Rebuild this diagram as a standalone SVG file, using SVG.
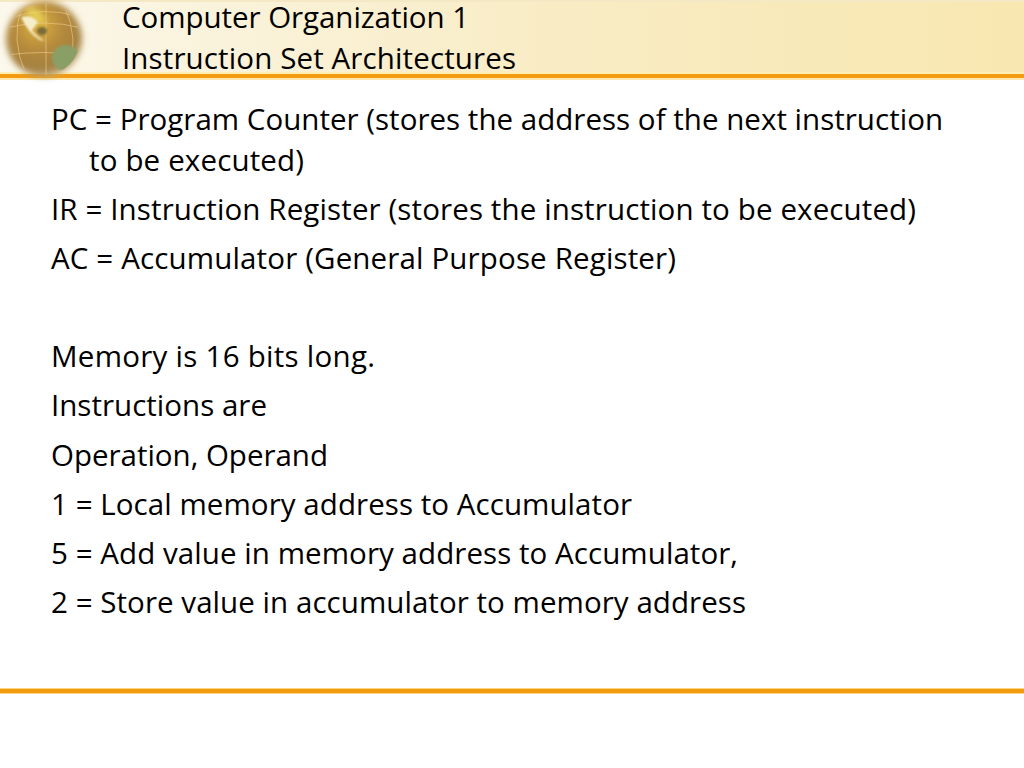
<svg xmlns="http://www.w3.org/2000/svg" width="1024" height="768" viewBox="0 0 1024 768">
<style>
text{font-family:"Open Sans","Noto Sans","Liberation Sans",sans-serif;fill:#000;font-size:29.5px}
.g{fill:none;stroke:#eec78a;stroke-width:1;opacity:.65}
</style>
<defs>
<linearGradient id="hdr" x1="0" x2="1" y1="0" y2="0"><stop offset="0" stop-color="#fbf8ec"/><stop offset=".2" stop-color="#faf3dc"/><stop offset=".55" stop-color="#f9ecc4"/><stop offset="1" stop-color="#f8e7b0"/></linearGradient>
<radialGradient id="gl" cx=".42" cy=".32" r=".72"><stop offset="0" stop-color="#dcb23e"/><stop offset=".45" stop-color="#b58a3c"/><stop offset=".8" stop-color="#a38040"/><stop offset="1" stop-color="#cdb88c"/></radialGradient>
<filter id="bl" x="-20%" y="-20%" width="140%" height="140%"><feGaussianBlur stdDeviation="3.2"/></filter>
<filter id="bs" x="-30%" y="-30%" width="160%" height="160%"><feGaussianBlur stdDeviation="1.3"/></filter>
<clipPath id="gc"><circle cx="44" cy="39" r="36"/></clipPath>
</defs>
<g id="header">
<rect width="1024" height="74" fill="url(#hdr)"/>
<rect y="0" width="1024" height="2" fill="#f5e8c4"/>
<rect y="72" width="1024" height="2" fill="#fdeeb5"/>
<rect y="74" width="1024" height="5" fill="#f39c12"/>
<rect y="78" width="1024" height="2" fill="#fde9b0"/>
</g>
<g id="globe">
<circle cx="44" cy="39" r="38" fill="url(#gl)" filter="url(#bl)"/>
<g clip-path="url(#gc)">
<path class="g" d="M6 28Q44 18 82 28M6 55Q44 50 82 55M10 18Q44 6 76 16"/>
<path class="g" d="M46 2V76M22 6Q10 40 26 74M64 5Q80 40 68 72"/>
<path d="M26 6Q42 6 46 24Q36 24 26 14Z" fill="#efe060" opacity=".75" filter="url(#bl)"/>
<path d="M21 17Q32 14 38 22Q35 27 32 30Q36 36 45 41L40 40Q28 33 21 17Z" fill="#f6eecb" filter="url(#bs)"/>
<ellipse cx="66" cy="58" rx="14" ry="13" fill="#8a9f66" filter="url(#bs)"/>
<ellipse cx="42" cy="31" rx="5" ry="4" fill="#7a6c3a" filter="url(#bs)"/>
</g>
</g>
<g id="title">
<text x="122" y="28" textLength="347">Computer Organization 1</text>
<text x="122" y="69" textLength="394">Instruction Set Architectures</text>
</g>
<g id="body">
<text x="51" y="130" textLength="892">PC = Program Counter (stores the address of the next instruction</text>
<text x="89" y="171" textLength="215">to be executed)</text>
<text x="51" y="220" textLength="865">IR = Instruction Register (stores the instruction to be executed)</text>
<text x="51" y="269" textLength="625">AC = Accumulator (General Purpose Register)</text>
<text x="51" y="367" textLength="324">Memory is 16 bits long.</text>
<text x="51" y="416" textLength="216">Instructions are</text>
<text x="51" y="466" textLength="277">Operation, Operand</text>
<text x="51" y="515" textLength="581">1 = Local memory address to Accumulator</text>
<text x="51" y="564" textLength="687">5 = Add value in memory address to Accumulator,</text>
<text x="51" y="613" textLength="695">2 = Store value in accumulator to memory address</text>
</g>
<g id="footer">
<rect y="688" width="1024" height="6" fill="#fdd87f"/>
<rect y="689" width="1024" height="4" fill="#f39c12"/>
</g>
</svg>
